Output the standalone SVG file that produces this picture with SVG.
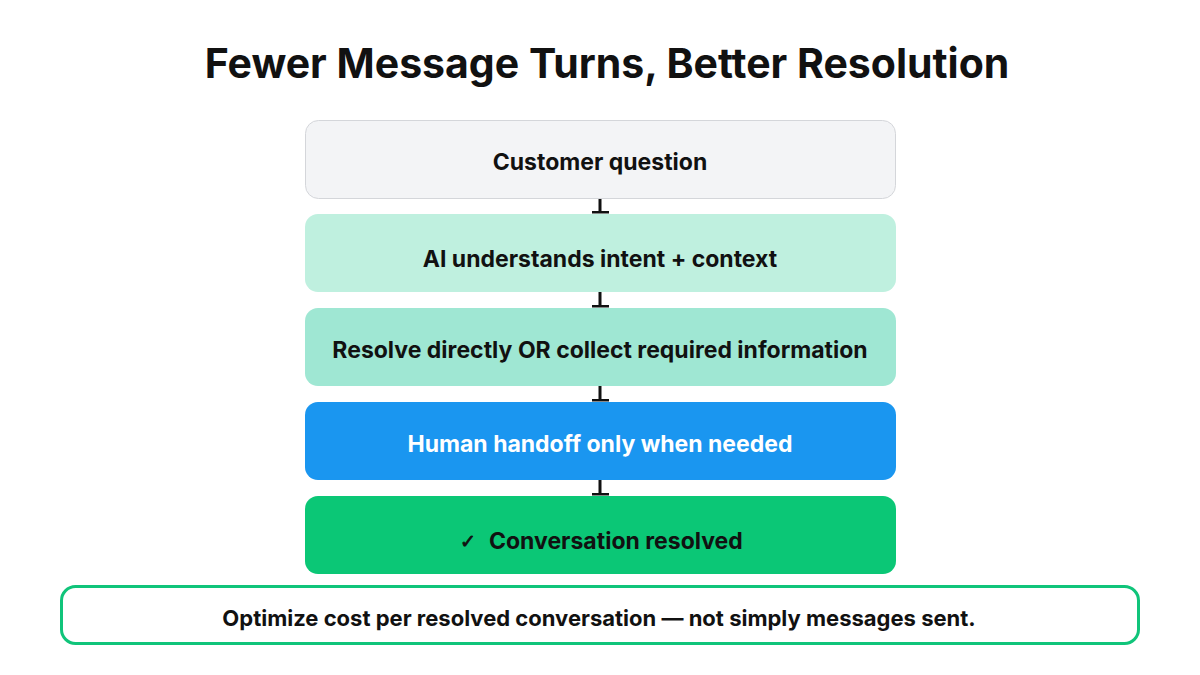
<svg xmlns="http://www.w3.org/2000/svg" width="1200" height="675" viewBox="0 0 1200 675">
<style>
.t{font-family:Inter,"Liberation Sans",sans-serif;font-weight:700;text-anchor:middle;fill:#111111}
.conn line{stroke:#111111;stroke-width:3}
.conn rect{fill:#111111}
</style>
<rect width="1200" height="675" fill="#ffffff"/>
<text class="t" x="607" y="78" font-size="41">Fewer Message Turns, Better Resolution</text>
<g id="conn" class="conn">
<line x1="600" y1="198" x2="600" y2="212"/><rect x="592" y="211" width="17" height="2.5"/>
<line x1="600" y1="292" x2="600" y2="306"/><rect x="592" y="305" width="17" height="2.5"/>
<line x1="600" y1="386" x2="600" y2="400"/><rect x="592" y="399" width="17" height="2.5"/>
<line x1="600" y1="480" x2="600" y2="494"/><rect x="592" y="493" width="17" height="2.5"/>
</g>
<g id="n1"><rect x="305.5" y="120.5" width="590" height="78" rx="13" fill="#f3f4f6" stroke="#d4d6da"/>
<text class="t" x="600" y="170" font-size="23">Customer question</text></g>
<g id="n2"><rect x="305" y="214" width="591" height="78" rx="13" fill="#bff0df"/>
<text class="t" x="600" y="267" font-size="23">AI understands intent + context</text></g>
<g id="n3"><rect x="305" y="308" width="591" height="78" rx="13" fill="#9fe7d3"/>
<text class="t" x="600" y="358" font-size="23">Resolve directly OR collect required information</text></g>
<g id="n4"><rect x="305" y="402" width="591" height="78" rx="13" fill="#1a96f0"/>
<text class="t" x="600" y="452" font-size="23" style="fill:#ffffff">Human handoff only when needed</text></g>
<g id="n5"><rect x="305" y="496" width="591" height="78" rx="13" fill="#0bc776"/>
<text class="t" x="468" y="548" font-size="19" style="font-family:'DejaVu Sans',sans-serif;stroke:#111111;stroke-width:0.8">✓</text>
<text class="t" x="489" y="549" font-size="23" style="text-anchor:start">Conversation resolved</text></g>
<g id="note"><rect x="61.5" y="586.5" width="1077" height="57" rx="14" fill="#ffffff" stroke="#10c47a" stroke-width="3"/>
<text class="t" x="599" y="626" font-size="22">Optimize cost per resolved conversation — not simply messages sent.</text></g>
</svg>
